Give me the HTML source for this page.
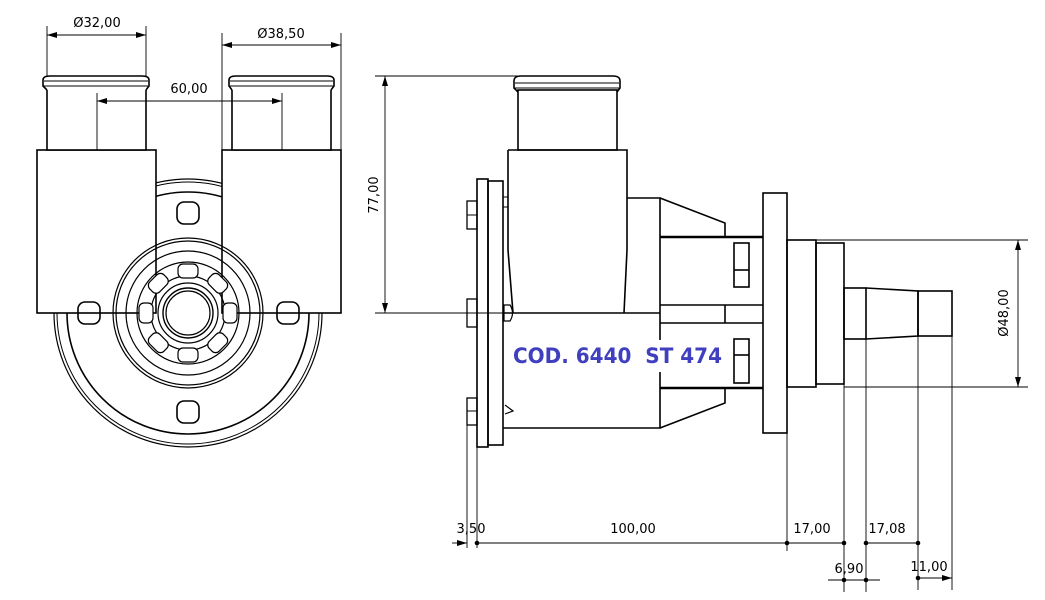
<!DOCTYPE html>
<html><head><meta charset="utf-8"><style>
html,body{margin:0;padding:0;background:#fff;}
svg{display:block;}
text{font-family:"DejaVu Sans","Liberation Sans",sans-serif;fill:#000;}
</style></head><body>
<svg width="1045" height="600" viewBox="0 0 1045 600" xmlns="http://www.w3.org/2000/svg">
<defs>
<marker id="ar" markerWidth="10" markerHeight="6" refX="10" refY="3" orient="auto" markerUnits="userSpaceOnUse"><path d="M0,0 L10,3 L0,6 z" fill="#000"/></marker>
<marker id="al" markerWidth="10" markerHeight="6" refX="0" refY="3" orient="auto" markerUnits="userSpaceOnUse"><path d="M10,0 L0,3 L10,6 z" fill="#000"/></marker>
</defs>
<g fill="none" stroke="#000" stroke-width="1.6">
<!-- LEFT VIEW -->
<circle cx="188" cy="313" r="134" stroke-width="1.2"/>
<circle cx="188" cy="313" r="131" stroke-width="1"/>
<circle cx="188" cy="313" r="121"/>
<!-- blocks (white fill to hide circle) -->
<rect x="37" y="150" width="119" height="163" fill="#fff"/>
<rect x="222" y="150" width="119" height="163" fill="#fff"/>
<!-- pipes -->
<rect x="47" y="88" width="99" height="62" fill="#fff"/>
<path d="M47,90 L43,86 L43,80 Q43,76 50,76 L142,76 Q149,76 149,80 L149,86 L146,90" fill="#fff"/>
<line x1="44" y1="81" x2="148" y2="81" stroke-width="1"/><line x1="44" y1="86" x2="148" y2="86" stroke-width="1"/>
<rect x="232" y="88" width="99" height="62" fill="#fff"/>
<path d="M232,90 L229,86 L229,80 Q229,76 236,76 L327,76 Q334,76 334,80 L334,86 L331,90" fill="#fff"/>
<line x1="230" y1="81" x2="333" y2="81" stroke-width="1"/><line x1="230" y1="86" x2="333" y2="86" stroke-width="1"/>
<!-- bolt holes -->
<rect x="177" y="202" width="22" height="22" rx="7"/>
<rect x="78" y="302" width="22" height="22" rx="7"/>
<rect x="277" y="302" width="22" height="22" rx="7"/>
<rect x="177" y="401" width="22" height="22" rx="7"/>
<!-- bearing -->
<circle cx="188" cy="313" r="75" stroke-width="1.2"/>
<circle cx="188" cy="313" r="72" stroke-width="1.2"/>
<circle cx="188" cy="313" r="62" stroke-width="1.2"/>
<circle cx="188" cy="313" r="51" stroke-width="1.2"/>
<circle cx="188" cy="313" r="37" stroke-width="1.2"/>
<circle cx="188" cy="313" r="30" stroke-width="1.2"/>
<circle cx="188" cy="313" r="25" stroke-width="1.4"/>
<circle cx="188" cy="313" r="22" stroke-width="1.2"/>
<g stroke-width="1.2" fill="#fff">
<rect x="178" y="264" width="20" height="14" rx="5" transform="rotate(0 188 313)"/>
<rect x="178" y="264" width="20" height="14" rx="5" transform="rotate(45 188 313)"/>
<rect x="178" y="264" width="20" height="14" rx="5" transform="rotate(90 188 313)"/>
<rect x="178" y="264" width="20" height="14" rx="5" transform="rotate(135 188 313)"/>
<rect x="178" y="264" width="20" height="14" rx="5" transform="rotate(180 188 313)"/>
<rect x="178" y="264" width="20" height="14" rx="5" transform="rotate(225 188 313)"/>
<rect x="178" y="264" width="20" height="14" rx="5" transform="rotate(270 188 313)"/>
<rect x="178" y="264" width="20" height="14" rx="5" transform="rotate(315 188 313)"/>
</g>
<!-- left dims -->
<g stroke-width="0.9">
<line x1="47" y1="26" x2="47" y2="76"/><line x1="146" y1="26" x2="146" y2="76"/>
<line x1="47" y1="35" x2="146" y2="35" marker-start="url(#al)" marker-end="url(#ar)"/>
<line x1="222" y1="33" x2="222" y2="150"/><line x1="341" y1="33" x2="341" y2="150"/>
<line x1="222" y1="45" x2="341" y2="45" marker-start="url(#al)" marker-end="url(#ar)"/>
<line x1="97" y1="93" x2="97" y2="150"/><line x1="282" y1="93" x2="282" y2="150"/>
<line x1="97" y1="101" x2="282" y2="101" marker-start="url(#al)" marker-end="url(#ar)"/>
</g>

<!-- RIGHT VIEW -->
<!-- top pipe -->
<rect x="518" y="90" width="99" height="60"/>
<path d="M518,92 L514,88 L514,81 Q514,76 521,76 L613,76 Q620,76 620,81 L620,88 L617,92"/>
<line x1="515" y1="83" x2="619" y2="83" stroke-width="1"/><line x1="515" y1="88" x2="619" y2="88" stroke-width="1"/>
<!-- block -->
<path d="M508,150 L627,150 L627,250 L624,313 M508,150 L508,250 L513,313"/>
<!-- body -->
<path d="M627,198 L660,198 L660,340 M660,372 L660,428 L503,428"/>
<line x1="503" y1="313" x2="660" y2="313"/>
<!-- flange plate -->
<rect x="477" y="179" width="11" height="268"/>
<rect x="488" y="181" width="15" height="264"/>
<!-- bolts -->
<rect x="467" y="201" width="10" height="28" stroke-width="1.3"/><line x1="467" y1="215" x2="477" y2="215" stroke-width="1"/>
<rect x="467" y="299" width="10" height="28" stroke-width="1.3"/><line x1="467" y1="313" x2="477" y2="313" stroke-width="1"/>
<rect x="467" y="398" width="10" height="27" stroke-width="1.3"/><line x1="467" y1="411" x2="477" y2="411" stroke-width="1"/>
<rect x="503" y="197" width="5" height="10" stroke-width="1"/>
<path d="M504,305 L510,305 Q515,313 510,321 L504,321 Z" stroke-width="1.2"/>
<path d="M505,405 L513,411 L505,414" stroke-width="1.2"/>
<!-- cone -->
<path d="M660,198 L725,223 L725,237 M660,428 L725,403 L725,388"/>
<line x1="660" y1="237" x2="763" y2="237" stroke-width="2.4"/>
<line x1="660" y1="388" x2="763" y2="388" stroke-width="2.4"/>
<line x1="660" y1="305" x2="763" y2="305"/>
<line x1="660" y1="323" x2="763" y2="323"/>
<line x1="725" y1="305" x2="725" y2="323"/>
<rect x="734" y="243" width="15" height="44"/><line x1="734" y1="270" x2="749" y2="270"/>
<rect x="734" y="339" width="15" height="44"/><line x1="734" y1="355" x2="749" y2="355"/>
<!-- big flange -->
<rect x="763" y="193" width="24" height="240"/>
<!-- shaft -->
<rect x="787" y="240" width="29" height="147"/>
<rect x="816" y="243" width="28" height="141"/>
<rect x="844" y="288" width="22" height="51"/>
<path d="M866,288 L918,291 L918,336 L866,339"/>
<rect x="918" y="291" width="34" height="45"/>
<!-- dims right view -->
<g stroke-width="0.9">
<line x1="375" y1="76" x2="520" y2="76"/>
<line x1="375" y1="313" x2="504" y2="313"/>
<line x1="385" y1="76" x2="385" y2="313" marker-start="url(#al)" marker-end="url(#ar)"/>
<line x1="787" y1="240" x2="1028" y2="240"/>
<line x1="844" y1="387" x2="1028" y2="387"/>
<line x1="1018" y1="240" x2="1018" y2="387" marker-start="url(#al)" marker-end="url(#ar)"/>
<line x1="467" y1="425" x2="467" y2="548"/>
<line x1="477" y1="447" x2="477" y2="548"/>
<line x1="787" y1="433" x2="787" y2="551"/>
<line x1="844" y1="384" x2="844" y2="592"/>
<line x1="866" y1="339" x2="866" y2="592"/>
<line x1="918" y1="336" x2="918" y2="590"/>
<line x1="952" y1="336" x2="952" y2="590"/>
<line x1="452" y1="543" x2="467" y2="543" marker-end="url(#ar)"/>
<line x1="477" y1="543" x2="844" y2="543"/>
<line x1="866" y1="543" x2="918" y2="543"/>
<line x1="828" y1="580" x2="880" y2="580"/>
<line x1="918" y1="578" x2="952" y2="578" marker-end="url(#ar)"/>
</g>
</g>
<g fill="#000">
<circle cx="477" cy="543" r="2.3"/><circle cx="787" cy="543" r="2.3"/><circle cx="844" cy="543" r="2.3"/>
<circle cx="866" cy="543" r="2.3"/><circle cx="918" cy="543" r="2.3"/>
<circle cx="844" cy="580" r="2.3"/><circle cx="866" cy="580" r="2.3"/><circle cx="918" cy="578" r="2.3"/>
</g>
<g font-size="13">
<text x="97" y="27" text-anchor="middle">Ø32,00</text>
<text x="281" y="38" text-anchor="middle">Ø38,50</text>
<text x="189" y="93" text-anchor="middle">60,00</text>
<text x="378" y="195" text-anchor="middle" transform="rotate(-90 378 195)">77,00</text>
<text x="1008" y="313" text-anchor="middle" transform="rotate(-90 1008 313)">Ø48,00</text>
<text x="471" y="533" text-anchor="middle">3,50</text>
<text x="633" y="533" text-anchor="middle">100,00</text>
<text x="812" y="533" text-anchor="middle">17,00</text>
<text x="887" y="533" text-anchor="middle">17,08</text>
<text x="849" y="573" text-anchor="middle">6,90</text>
<text x="929" y="571" text-anchor="middle">11,00</text>
</g>
<text x="513" y="363" font-family="Liberation Sans, sans-serif" font-weight="bold" font-size="21" fill="#3f3fbf" style="fill:#3f3fbf" textLength="209" lengthAdjust="spacingAndGlyphs" xml:space="preserve">COD. 6440  ST 474</text>
</svg>
</body></html>
